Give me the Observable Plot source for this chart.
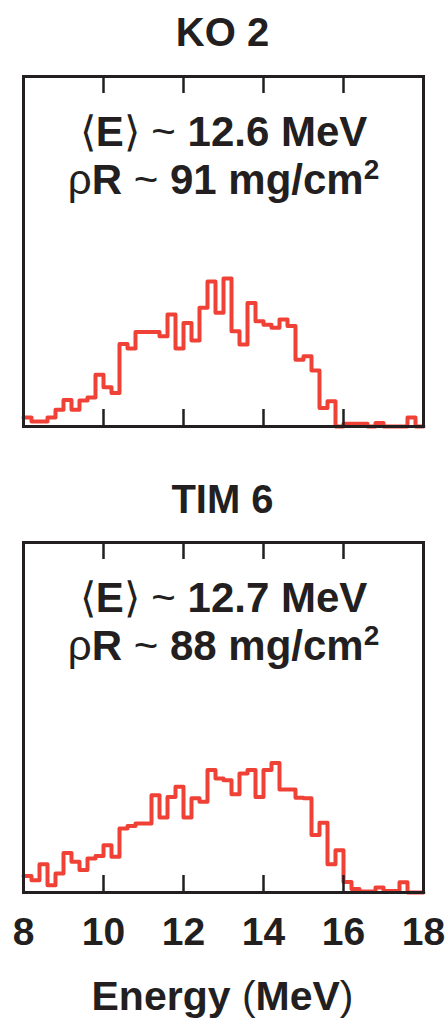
<!DOCTYPE html>
<html><head><meta charset="utf-8">
<script src="https://cdn.jsdelivr.net/npm/d3@7"></script>
<script src="https://cdn.jsdelivr.net/npm/@observablehq/plot@0.6"></script>
<style>
body{margin:0;background:#fff;}
#wrap{position:relative;width:445px;height:1021px;font-family:"Liberation Sans",Arial,Helvetica,sans-serif;color:#231f20;overflow:hidden;}
.t{position:absolute;left:0;width:445px;text-align:center;font-weight:bold;font-size:40px;line-height:40px;white-space:nowrap;}
.t .n{font-weight:normal;}
.p{position:absolute;left:0;}
</style></head><body><div id="wrap"></div>
<script>
// ---- data ----
const energyStart = 8;          // MeV, left edge of first bin
const binWidth = 0.2;           // MeV
const detectors = ["KO 2", "TIM 6"];
const meanEnergy = [12.6, 12.7];     // MeV
const arealDensity = [91, 88];       // mg/cm2
const xTicks = [8, 10, 12, 14, 16, 18];
const innerTicks = [10, 12, 14, 16];
const ko2Counts = [2.6, 1.4, 1.4, 2.6, 4.8, 7.6, 4.8, 7.4, 8.3, 14.8,
  11.2, 9.6, 23.6, 22.3, 27.0, 27.0, 27.0, 25.8, 32.0, 22.3,
  29.6, 24.6, 33.9, 41.4, 32.5, 42.3, 27.2, 23.4, 35.3, 30.1,
  29.1, 28.2, 30.6, 28.7, 19.1, 20.1, 16.0, 5.3, 7.2, 0,
  0.8, 0.8, 0.8, 0, 1.0, 0, 0, 0, 2.6, 0];
const tim6Counts = [4.7, 3.5, 8.1, 2.1, 5.4, 11.3, 8.8, 6.4, 9.7, 10.4,
  13.5, 10.2, 18.3, 19.0, 19.7, 19.7, 27.8, 21.4, 27.3, 30.2,
  21.4, 26.9, 25.9, 35.0, 32.6, 32.1, 28.1, 34.0, 35.0, 27.3,
  35.0, 37.0, 29.4, 29.4, 27.1, 26.9, 16.4, 19.9, 8.1, 12.1,
  3.0, 1.0, 0.3, 0.3, 1.4, 0.4, 0.4, 2.9, 0, 0];
const series = [ko2Counts, tim6Counts];
const axisLabel = "Energy (MeV)";

// ---- layout ----
const FONT = '"Liberation Sans", Arial, Helvetica, sans-serif';
const INK = "#231f20", RED = "#ef4136";
const frameH = 350, tickLen = 17;
const layout = [
  {titleTop: 12, svgTop: 64, mb: 10},
  {titleTop: 479, svgTop: 530, mb: 62}
];
const wrap = document.getElementById("wrap");

function toSteps(counts) {
  const pts = counts.map((c, i) => ({x: energyStart + i * binWidth, y: c}));
  pts.push({x: energyStart + counts.length * binWidth, y: counts[counts.length - 1]});
  return pts;
}

function richText(el) {
  const s = el.textContent;
  el.textContent = "";
  const NS = "http://www.w3.org/2000/svg";
  for (const ch of s) {
    const t = document.createElementNS(NS, "tspan");
    if (ch === "²") {
      t.textContent = "2";
      t.setAttribute("font-size", "28");
      t.setAttribute("dy", "-15");
    } else {
      t.textContent = ch;
      if ("⟨⟩ρ~".includes(ch)) t.setAttribute("font-weight", "normal");
    }
    el.appendChild(t);
  }
}

detectors.forEach((name, k) => {
  const L = layout[k];
  const title = document.createElement("div");
  title.className = "t";
  title.style.top = L.titleTop + "px";
  title.textContent = name;
  wrap.appendChild(title);

  const line1 = `⟨E⟩ ~ ${meanEnergy[k]} MeV`;
  const line2 = `ρR ~ ${arealDensity[k]} mg/cm²`;
  const last = k === detectors.length - 1;
  const marks = [
    Plot.lineY(toSteps(series[k]), {x: "x", y: "y", curve: "step-after", stroke: RED, strokeWidth: 4}),
    Plot.ruleX(innerTicks, {insetTop: frameH - tickLen, stroke: INK, strokeWidth: 2.5}),
    Plot.ruleX(innerTicks, {insetBottom: frameH - tickLen, stroke: INK, strokeWidth: 2.5}),
    Plot.text([line1], {text: d => d, frameAnchor: "top", lineAnchor: "bottom", dy: 69, fontSize: 42, fontWeight: "bold", fill: INK}),
    Plot.text([line2], {text: d => d, frameAnchor: "top", lineAnchor: "bottom", dy: 117, fontSize: 42, fontWeight: "bold", fill: INK}),
    Plot.frame({stroke: INK, strokeWidth: 3})
  ];
  if (last) marks.push(Plot.axisX(xTicks, {tickSize: 0, tickPadding: 25, fontSize: 39, fontWeight: "bold", label: null, fill: INK}));
  const plot = Plot.plot({
    width: 445,
    height: 12 + frameH + L.mb,
    marginLeft: 23, marginRight: 22, marginTop: 12, marginBottom: L.mb,
    x: {domain: [8, 18], axis: last ? undefined : null},
    y: {domain: [0, 100], axis: null},
    style: {fontFamily: FONT, color: INK, background: "transparent", overflow: "visible"},
    marks
  });
  plot.classList.add("p");
  plot.style.top = L.svgTop + "px";
  wrap.appendChild(plot);
  plot.querySelectorAll("text").forEach(el => {
    if (/[⟨ρ]/.test(el.textContent)) richText(el);
  });
});

const xl = document.createElement("div");
xl.className = "t";
xl.style.top = "976px";
xl.style.fontSize = "41px";
xl.innerHTML = axisLabel.replace("(", '<span class="n">(</span>').replace(")", '<span class="n">)</span>');
wrap.appendChild(xl);
</script>
</body></html>
